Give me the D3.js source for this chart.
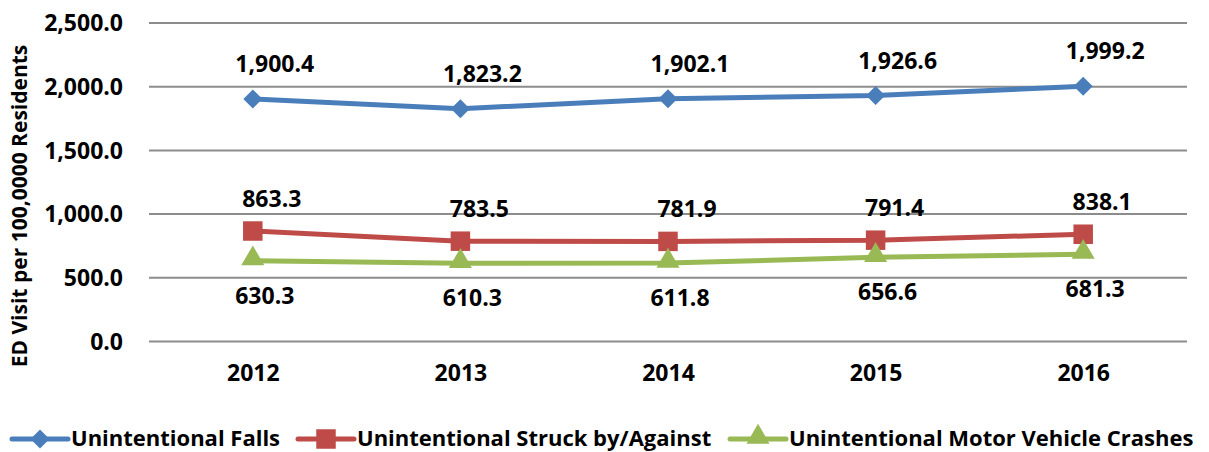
<!DOCTYPE html>
<html>
<head>
<meta charset="utf-8">
<script src="https://cdn.jsdelivr.net/npm/d3@7"></script>
<style>
  html, body { margin: 0; padding: 0; background: #fff; }
  #chart { width: 1209px; height: 452px; }
  text { font-family: "Open Sans", "Noto Sans", sans-serif; font-weight: 700; fill: #000; }
</style>
</head>
<body>
<div id="chart"></div>
<script>
const years = ["2012", "2013", "2014", "2015", "2016"];
const falls = [1900.4, 1823.2, 1902.1, 1926.6, 1999.2];
const struck = [863.3, 783.5, 781.9, 791.4, 838.1];
const motor = [630.3, 610.3, 611.8, 656.6, 681.3];
const yTicks = [0, 500, 1000, 1500, 2000, 2500];

const series = [
  { name: "Unintentional Falls", values: falls, color: "#4A7EBB", marker: "diamond", labelDx: 22, labelDy: -27 },
  { name: "Unintentional Struck by/Against", values: struck, color: "#BE4B48", marker: "square", labelDx: 19, labelDy: -24 },
  { name: "Unintentional Motor Vehicle Crashes", values: motor, color: "#98B954", marker: "triangle", labelDx: 12, labelDy: 43 }
];

function drawChart(width, height) {
  const plot = { left: 149, right: 1187, top: 22.5, bottom: 341 };

  const svg = d3.select("#chart")
    .append("svg")
    .attr("width", width)
    .attr("height", height)
    .attr("viewBox", `0 0 ${width} ${height}`);

  const xScale = d3.scalePoint()
    .domain(years)
    .range([plot.left, plot.right])
    .padding(0.5);

  const yScale = d3.scaleLinear()
    .domain([0, 2500])
    .range([plot.bottom, plot.top]);

  // gridlines + y tick labels
  const yAxis = svg.append("g")
    .attr("class", "y-axis")
    .attr("transform", `translate(${plot.left},0)`)
    .call(d3.axisLeft(yScale)
      .tickValues(yTicks)
      .tickSize(-(plot.right - plot.left))
      .tickPadding(26)
      .tickFormat(d3.format(",.1f")));
  yAxis.select(".domain").remove();
  yAxis.selectAll(".tick line")
    .attr("stroke", "#8C8C8C")
    .attr("stroke-width", 2);
  yAxis.selectAll(".tick text")
    .attr("dy", "0.36em")
    .style("font-size", "23px");

  // x category labels
  const xAxis = svg.append("g")
    .attr("class", "x-axis")
    .attr("transform", `translate(0,${plot.bottom})`)
    .call(d3.axisBottom(xScale).tickSize(0).tickPadding(24));
  xAxis.select(".domain").remove();
  xAxis.selectAll(".tick text")
    .style("font-size", "23px");

  // y axis title
  svg.append("text")
    .attr("transform", "rotate(-90)")
    .attr("x", -206)
    .attr("y", 27)
    .attr("text-anchor", "middle")
    .style("font-size", "21px")
    .text("ED Visit per 100,0000 Residents");

  const markerPath = {
    diamond: d3.symbol().type(d3.symbolDiamond2).size(230),
    square: d3.symbol().type(d3.symbolSquare).size(380),
    triangle: d3.symbol().type(d3.symbolTriangle).size(230)
  };

  const line = d3.line()
    .x((d, i) => xScale(years[i]))
    .y(d => yScale(d));

  series.forEach(s => {
    const g = svg.append("g").attr("class", "series");

    g.append("path")
      .datum(s.values)
      .attr("fill", "none")
      .attr("stroke", s.color)
      .attr("stroke-width", 5)
      .attr("d", line);

    g.selectAll(".marker")
      .data(s.values)
      .enter()
      .append("path")
      .attr("class", "marker")
      .attr("transform", (d, i) => `translate(${xScale(years[i])},${yScale(d) + (s.marker === "triangle" ? -2 : 0)})`)
      .attr("d", markerPath[s.marker])
      .attr("fill", s.color);

    g.selectAll(".label")
      .data(s.values)
      .enter()
      .append("text")
      .attr("class", "label")
      .attr("x", (d, i) => xScale(years[i]) + s.labelDx)
      .attr("y", d => yScale(d) + s.labelDy)
      .attr("text-anchor", "middle")
      .style("font-size", "23px")
      .text(d => d3.format(",.1f")(d));
  });

  // legend
  const legendX = [12, 298, 730];
  const legend = svg.append("g").attr("class", "legend");
  series.forEach((s, i) => {
    const lg = legend.append("g").attr("transform", `translate(${legendX[i]},439)`);
    lg.append("line")
      .attr("x1", 0).attr("x2", 56)
      .attr("y1", 0).attr("y2", 0)
      .attr("stroke", s.color)
      .attr("stroke-width", 5)
      .attr("stroke-linecap", "round");
    lg.append("path")
      .attr("transform", `translate(28,${s.marker === "triangle" ? -2 : 0})`)
      .attr("d", markerPath[s.marker])
      .attr("fill", s.color);
    lg.append("text")
      .attr("x", 59)
      .attr("y", 7)
      .style("font-size", "22px")
      .text(s.name);
  });
}

drawChart(1209, 452);
</script>
</body>
</html>
